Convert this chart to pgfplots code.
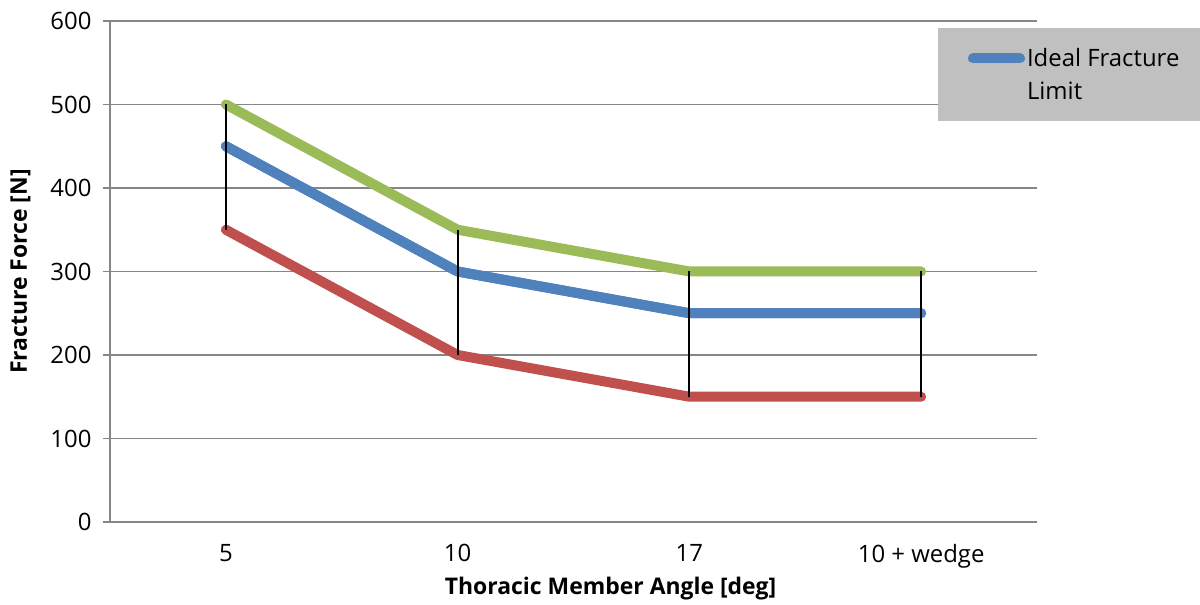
\documentclass[border=0pt]{standalone}
\usepackage{pgfplots}
\pgfplotsset{compat=1.18}
\usepackage{fontspec}
\setmainfont{Open Sans}
\definecolor{cgreen}{HTML}{9BBB59}
\definecolor{cblue}{HTML}{4F81BD}
\definecolor{cred}{HTML}{C0504D}
\definecolor{cgrid}{HTML}{868686}
\definecolor{clegend}{HTML}{C0C0C0}
\begin{document}
\begin{tikzpicture}[x=1bp,y=1bp]
\useasboundingbox (-110,-83) rectangle (1090,522);
\begin{axis}[
  at={(0,0)}, anchor=south west,
  scale only axis, width=927bp, height=501bp,
  xmin=-0.5, xmax=3.5, ymin=0, ymax=600,
  xtick={0,1,2,3}, xticklabels={5,10,17,10 + wedge},
  ytick={0,100,...,600},
  axis x line*=bottom, axis y line*=left,
  axis line style={cgrid, line width=1.5bp, -},
  ymajorgrids, grid style={cgrid, line width=1.5bp},
  major x tick style={draw=none},
  major y tick style={cgrid, line width=1.5bp},
  tick align=outside, major tick length=7bp,
  /pgf/number format/assume math mode=true,
  tick label style={font=\fontsize{24}{28}\selectfont},
  yticklabel style={xshift=-8bp},
  xticklabel style={yshift=-12bp},
  xlabel={\bfseries Thoracic Member Angle [deg]},
  ylabel={\bfseries Fracture Force [N]},
  label style={font=\fontsize{23}{27}\selectfont},
  xlabel style={at={(rel axis cs:0.540,0)}, anchor=north, yshift=-52bp},
  ylabel style={at={(rel axis cs:0,0.5)}, anchor=south, yshift=76bp},
  legend style={at={(rel axis cs:0.893,0.986)}, anchor=north west,
    fill=clegend, draw=none, font=\fontsize{24}{33}\selectfont,
    inner xsep=30bp, inner ysep=18bp, cells={align=left, inner xsep=1bp}},
  legend image code/.code={\draw[#1, line cap=round] (0bp,16bp) -- (47bp,16bp);},
]
\addplot[cblue, line width=10bp, line cap=round, line join=round] coordinates {(0,450) (1,300) (2,250) (3,250)};
\addlegendentry{Ideal Fracture\\Limit\strut}
\addplot[cgreen, line width=10bp, line cap=round, line join=round, forget plot] coordinates {(0,500) (1,350) (2,300) (3,300)};
\addplot[cred, line width=10bp, line cap=round, line join=round, forget plot] coordinates {(0,350) (1,200) (2,150) (3,150)};
\addplot[cblue, line width=10bp, line cap=round, line join=round, forget plot] coordinates {(0,450) (1,300) (2,250) (3,250)};
\addplot[black, line width=2bp, forget plot] coordinates {(0,350) (0,500)};
\addplot[black, line width=2bp, forget plot] coordinates {(1,200) (1,350)};
\addplot[black, line width=2bp, forget plot] coordinates {(2,150) (2,300)};
\addplot[black, line width=2bp, forget plot] coordinates {(3,150) (3,300)};
\end{axis}
\end{tikzpicture}
\end{document}
